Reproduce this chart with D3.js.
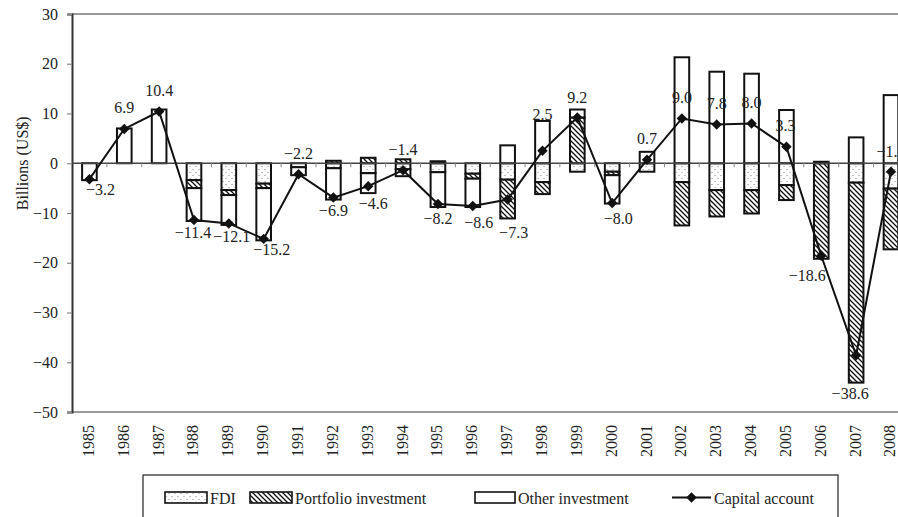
<!DOCTYPE html>
<html>
<head>
<meta charset="utf-8">
<script src="https://cdn.jsdelivr.net/npm/d3@7"></script>
<style>
  body { margin: 0; background: #fff; }
  svg { display: block; font-family: "Liberation Serif", "Times New Roman", serif; }
</style>
</head>
<body>
<div class="chart-area"></div>
<script>
// ---- Data (billions US$) ----
const years = ["1985","1986","1987","1988","1989","1990","1991","1992","1993","1994","1995","1996",
               "1997","1998","1999","2000","2001","2002","2003","2004","2005","2006","2007","2008"];
const fdi       = [0, 0, 0, -3.4, -5.4, -4.1, -0.8, -1.0, -2.0, -1.2, -1.8, -2.1,
                   -3.3, -3.8, -1.7, -1.7, -1.7, -3.8, -5.4, -5.4, -4.4, 0, -3.9, -5.1];
const portfolio = [0, 0, 0, -1.6, -1.0, -0.9, 0, 0.5, 1.1, 0.8, 0.4, -1.0,
                   -7.8, -2.4, 9.2, -0.7, 0, -8.7, -5.3, -4.7, -3.0, -19.2, -40.2, -12.2];
const other     = [-3.4, 7.0, 10.8, -6.6, -6.0, -10.5, -1.6, -6.3, -4.0, -1.4, -7.0, -5.7,
                   3.6, 8.5, 1.6, -5.7, 2.3, 21.3, 18.4, 18.0, 10.7, 0.3, 5.2, 13.7];
const capital   = [-3.2, 6.9, 10.4, -11.4, -12.1, -15.2, -2.2, -6.9, -4.6, -1.4, -8.2, -8.6,
                   -7.3, 2.5, 9.2, -8.0, 0.7, 9.0, 7.8, 8.0, 3.3, -18.6, -38.6, -1.7];
const yTicks = [30, 20, 10, 0, -10, -20, -30, -40, -50];

// label offsets from each capital-account marker (layout only)
const labelOffsets = [[11,10],[0,-22],[0,-21],[-1,12],[3,13],[8,11],[0,-21],[0,13],[5,17],[0,-21],[0,14],[6,16],
                      [6,33],[0,-36],[0,-20],[6,15],[0,-21],[0,-21],[0,-21],[0,-21],[-1,-21],[-14,20],[-6,38],[0,-20]];

// ---- Sizes ----
const width = 898, height = 517;
const plotLeft = 72, plotTop = 14, plotBottom = 412;
const step = 34.85;

const svg = d3.select(".chart-area").append("svg")
    .attr("width", width)
    .attr("height", height);

// patterns
const defs = svg.append("defs");
const dots = defs.append("pattern")
    .attr("id", "dots").attr("patternUnits", "userSpaceOnUse")
    .attr("width", 6).attr("height", 6);
dots.append("rect").attr("width", 6).attr("height", 6).attr("fill", "#fff");
dots.append("circle").attr("cx", 1).attr("cy", 1.5).attr("r", 0.6).attr("fill", "#777");
dots.append("circle").attr("cx", 4).attr("cy", 4.5).attr("r", 0.6).attr("fill", "#777");

const hatch = defs.append("pattern")
    .attr("id", "hatch").attr("patternUnits", "userSpaceOnUse")
    .attr("width", 5).attr("height", 5);
hatch.append("rect").attr("width", 5).attr("height", 5).attr("fill", "#fff");
hatch.append("path")
    .attr("d", "M-1,-1 L6,6 M-1,4 L1,6 M4,-1 L6,1")
    .attr("stroke", "#111").attr("stroke-width", 1.3);

const fills = { fdi: "url(#dots)", portfolio: "url(#hatch)", other: "#fff" };

// ---- Scales ----
const x = d3.scaleBand()
    .domain(years)
    .range([plotLeft, plotLeft + step * years.length])
    .paddingInner(0.58)
    .paddingOuter(0.29);

const y = d3.scaleLinear()
    .domain([-50, 30])
    .range([plotBottom, plotTop]);

const cx = d => x(d) + x.bandwidth() / 2;

// ---- Frame ----
svg.append("line")
    .attr("x1", plotLeft).attr("x2", width).attr("y1", y(30)).attr("y2", y(30))
    .attr("stroke", "#9a9a9a").attr("stroke-width", 2);
svg.append("line")
    .attr("x1", plotLeft).attr("x2", width).attr("y1", y(-50)).attr("y2", y(-50))
    .attr("stroke", "#9a9a9a").attr("stroke-width", 2);

// y axis
const yAxis = svg.append("g")
    .attr("transform", `translate(${plotLeft},0)`)
    .call(d3.axisLeft(y).tickValues(yTicks).tickSize(5).tickPadding(9).tickFormat(d3.format("d")));
yAxis.select(".domain").attr("stroke", "#333").attr("stroke-width", 2);
yAxis.selectAll(".tick line").attr("stroke", "#888").attr("stroke-width", 1.2);
yAxis.selectAll(".tick text")
    .attr("fill", "#222")
    .style("font-size", "16px")
    .style("font-family", "'Liberation Serif', serif");

svg.append("text")
    .attr("transform", `translate(22, ${y(0)}) rotate(-90)`)
    .attr("text-anchor", "middle")
    .attr("dy", "0.35em")
    .style("font-size", "16px")
    .attr("fill", "#222")
    .text("Billions (US$)");

// ---- Stacked bars ----
const table = years.map((yr, i) => ({ year: yr, fdi: fdi[i], portfolio: portfolio[i], other: other[i] }));
const series = d3.stack()
    .keys(["fdi", "portfolio", "other"])
    .offset(d3.stackOffsetDiverging)(table);

const barGroup = svg.append("g");
series.forEach(s => {
    barGroup.append("g")
        .selectAll("rect")
        .data(s.filter(d => d[1] !== d[0]))
        .join("rect")
        .attr("x", d => x(d.data.year))
        .attr("width", x.bandwidth())
        .attr("y", d => y(Math.max(d[0], d[1])))
        .attr("height", d => Math.abs(y(d[0]) - y(d[1])))
        .attr("fill", fills[s.key])
        .attr("stroke", "#111")
        .attr("stroke-width", 2);
});

// zero line and ticks between categories
svg.append("line")
    .attr("x1", plotLeft).attr("x2", width).attr("y1", y(0)).attr("y2", y(0))
    .attr("stroke", "#444").attr("stroke-width", 1.5);
svg.append("g")
    .selectAll("line")
    .data(years.slice(1))
    .join("line")
    .attr("x1", d => x(d) - x.step() * x.paddingInner() / 2)
    .attr("x2", d => x(d) - x.step() * x.paddingInner() / 2)
    .attr("y1", y(0)).attr("y2", y(0) + 4)
    .attr("stroke", "#888").attr("stroke-width", 1);

// ---- Capital account line ----
const line = d3.line()
    .x((d, i) => cx(years[i]))
    .y(d => y(d));

svg.append("path")
    .datum(capital)
    .attr("d", line)
    .attr("fill", "none")
    .attr("stroke", "#111")
    .attr("stroke-width", 2);

const diamond = d3.symbol().type(d3.symbolDiamond2).size(70);
svg.append("g")
    .selectAll("path")
    .data(capital)
    .join("path")
    .attr("transform", (d, i) => `translate(${cx(years[i])},${y(d)})`)
    .attr("d", diamond)
    .attr("fill", "#111");

svg.append("g")
    .selectAll("text")
    .data(capital)
    .join("text")
    .attr("x", (d, i) => cx(years[i]) + labelOffsets[i][0])
    .attr("y", (d, i) => y(d) + labelOffsets[i][1])
    .attr("text-anchor", "middle")
    .attr("dy", "0.35em")
    .style("font-size", "16px")
    .attr("fill", "#222")
    .text(d => d3.format(".1f")(d));

// year labels
svg.append("g")
    .selectAll("text")
    .data(years)
    .join("text")
    .attr("transform", d => `translate(${cx(d)}, 425) rotate(-90)`)
    .attr("text-anchor", "end")
    .attr("dy", "0.28em")
    .style("font-size", "16px")
    .attr("fill", "#222")
    .text(d => d);

// ---- Legend ----
const legend = svg.append("g");
legend.append("rect")
    .attr("x", 143).attr("y", 475)
    .attr("width", 695).attr("height", 70)
    .attr("fill", "#fff").attr("stroke", "#222").attr("stroke-width", 1.2);

const legendItems = [
    { label: "FDI", fill: fills.fdi, x: 165, w: 42 },
    { label: "Portfolio investment", fill: fills.portfolio, x: 250, w: 42 },
    { label: "Other investment", fill: fills.other, x: 475, w: 40 }
];
legendItems.forEach(it => {
    legend.append("rect")
        .attr("x", it.x).attr("y", 492)
        .attr("width", it.w).attr("height", 11)
        .attr("fill", it.fill).attr("stroke", "#111").attr("stroke-width", 1.6);
    legend.append("text")
        .attr("x", it.x + it.w + 3).attr("y", 504)
        .style("font-size", "16px")
        .attr("fill", "#222")
        .text(it.label);
});
legend.append("line")
    .attr("x1", 672).attr("x2", 711).attr("y1", 497.5).attr("y2", 497.5)
    .attr("stroke", "#111").attr("stroke-width", 2);
legend.append("path")
    .attr("transform", "translate(691.5,497.5)")
    .attr("d", diamond)
    .attr("fill", "#111");
legend.append("text")
    .attr("x", 714).attr("y", 504)
    .style("font-size", "16px")
    .attr("fill", "#222")
    .text("Capital account");
</script>
</body>
</html>
